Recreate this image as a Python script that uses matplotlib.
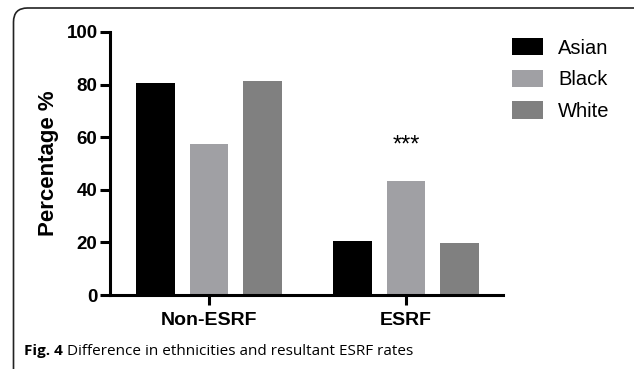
import matplotlib
matplotlib.use("Agg")
import matplotlib.pyplot as plt
import numpy as np
from matplotlib.patches import FancyBboxPatch
from matplotlib.transforms import IdentityTransform

# Data
categories = ["Non-ESRF", "ESRF"]
groups = ["Asian", "Black", "White"]
asian = [80.5, 20.6]
black = [57.4, 43.5]
white = [81.5, 19.6]
colors = ["#000000", "#a0a0a4", "#808080"]
yticks = [0, 20, 40, 60, 80, 100]
caption_bold = "Fig. 4"
caption_text = " Difference in ethnicities and resultant ESRF rates"

W, H = 634, 369
fig = plt.figure(figsize=(W / 100, H / 100), dpi=100)
fig.patch.set_facecolor("white")

ax = fig.add_axes([110 / W, 1 - 295 / H, (503 - 110) / W, (295 - 32) / H])

x = np.arange(len(categories))
step = 0.272
width = 0.195
series = [asian, black, white]
for i, (vals, name, c) in enumerate(zip(series, groups, colors)):
    ax.bar(x + (i - 1) * step, vals, width, color=c, label=name, edgecolor="none")

ax.set_xlim(-0.503, 1.492)
ax.set_ylim(0, 100)
ax.set_yticks(yticks)
ax.set_xticks(x)
ax.set_xticklabels(categories)

for side in ["top", "right"]:
    ax.spines[side].set_visible(False)
for side in ["left", "bottom"]:
    ax.spines[side].set_linewidth(2.2)
    ax.spines[side].set_color("black")
    ax.spines[side].set_capstyle("projecting")

ax.tick_params(axis="both", width=2.2, length=7, color="black")
ax.tick_params(axis="y", pad=2)
ax.tick_params(axis="x", pad=5)
for lab in ax.get_yticklabels():
    lab.set_fontfamily("Liberation Sans")
    lab.set_fontweight("bold")
    lab.set_fontsize(13.5)
for lab in ax.get_xticklabels():
    lab.set_fontfamily("Liberation Sans")
    lab.set_fontweight("bold")
    lab.set_fontsize(14)

ax.set_ylabel("Percentage %", fontfamily="Liberation Sans", fontweight="bold",
              fontsize=16, labelpad=5)

# significance marker above the Black ESRF bar
ax.text(1, 56.8, "***", ha="center", va="center", fontsize=17,
        fontfamily="Liberation Sans")

leg = ax.legend(loc="upper left", bbox_to_anchor=(512 / W, 1 - 38 / H),
                bbox_transform=fig.transFigure, frameon=False,
                prop={"family": "Liberation Sans", "size": 14.5},
                handlelength=1.55, handleheight=0.95, labelspacing=0.6,
                handletextpad=0.75, borderpad=0, borderaxespad=0)

# caption
t1 = fig.text(24 / W, 1 - 355 / H, caption_bold, fontfamily="Open Sans",
              fontweight="bold", fontsize=11, va="baseline", ha="left")
fig.canvas.draw()
bb = t1.get_window_extent()
fig.text(bb.x1 / W, 1 - 355 / H, caption_text, fontfamily="Open Sans",
         fontsize=11, va="baseline", ha="left")

# rounded frame around the figure panel
frame = FancyBboxPatch((13.5, -30), 700, H - 8 + 30,
                       boxstyle="round,pad=0,rounding_size=14",
                       transform=IdentityTransform(), fill=False,
                       edgecolor="#222222", linewidth=1.2)
fig.patches.append(frame)

fig.savefig("out.png", dpi=100)
